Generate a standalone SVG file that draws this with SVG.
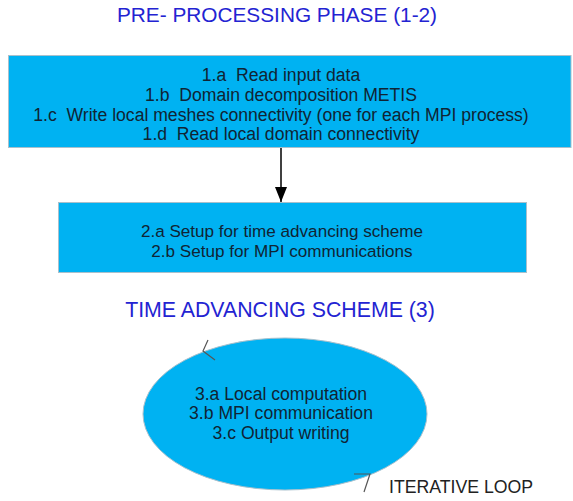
<svg xmlns="http://www.w3.org/2000/svg" width="573" height="501" viewBox="0 0 573 501">
<defs>
<style>
.title{font-family:"Liberation Sans",Arial,sans-serif;fill:#2323d2;text-anchor:middle}
.box{fill:#00b2f2;stroke:#a9c0cc;stroke-width:1}
.t{font-family:"Liberation Sans",Arial,sans-serif;fill:#102434;text-anchor:middle}
.mark{fill:none;stroke:#555;stroke-width:1.2}
</style>
<marker id="ah" markerWidth="16" markerHeight="12" refX="15" refY="6" orient="auto" markerUnits="userSpaceOnUse" viewBox="0 0 16 12">
<path d="M0,0 L15,6 L0,12 Z" fill="#000"/>
</marker>
</defs>
<rect width="573" height="501" fill="#fff"/>
<text class="title" font-size="20.8" x="277" y="22">PRE- PROCESSING PHASE (1-2)</text>
<g id="n1">
<rect class="box" x="8.5" y="55.5" width="562.5" height="92"/>
<text class="t" font-size="17.6" x="281" y="81"><tspan x="281" xml:space="preserve">1.a  Read input data</tspan><tspan x="281" y="101" xml:space="preserve">1.b  Domain decomposition METIS</tspan><tspan x="281" y="121" xml:space="preserve">1.c  Write local meshes connectivity (one for each MPI process)</tspan><tspan x="281" y="140" xml:space="preserve">1.d  Read local domain connectivity</tspan></text>
</g>
<g id="n2">
<rect class="box" x="58.5" y="202.5" width="468" height="70"/>
<text class="t" font-size="17.1" x="282" y="237"><tspan x="282">2.a Setup for time advancing scheme</tspan><tspan x="282" y="257">2.b Setup for MPI communications</tspan></text>
</g>
<text class="title" font-size="21.3" x="280" y="317">TIME ADVANCING SCHEME (3)</text>
<g id="n3">
<ellipse class="box" cx="285" cy="414" rx="142" ry="76"/>
<text class="t" font-size="17.6" x="281" y="400"><tspan x="281">3.a Local computation</tspan><tspan x="281" y="419">3.b MPI communication</tspan><tspan x="281" y="439">3.c Output writing</tspan></text>
</g>
<g id="connectors">
<line x1="281" y1="148" x2="281" y2="202" stroke="#000" stroke-width="1.5" marker-end="url(#ah)"/>
<polyline class="mark" points="208,340 203,351 215,360"/>
<polyline class="mark" points="354,474 370,474 364,492"/>
</g>
<text x="389" y="493" font-family="Liberation Sans,Arial,sans-serif" font-size="17.7" fill="#222">ITERATIVE LOOP</text>
</svg>
